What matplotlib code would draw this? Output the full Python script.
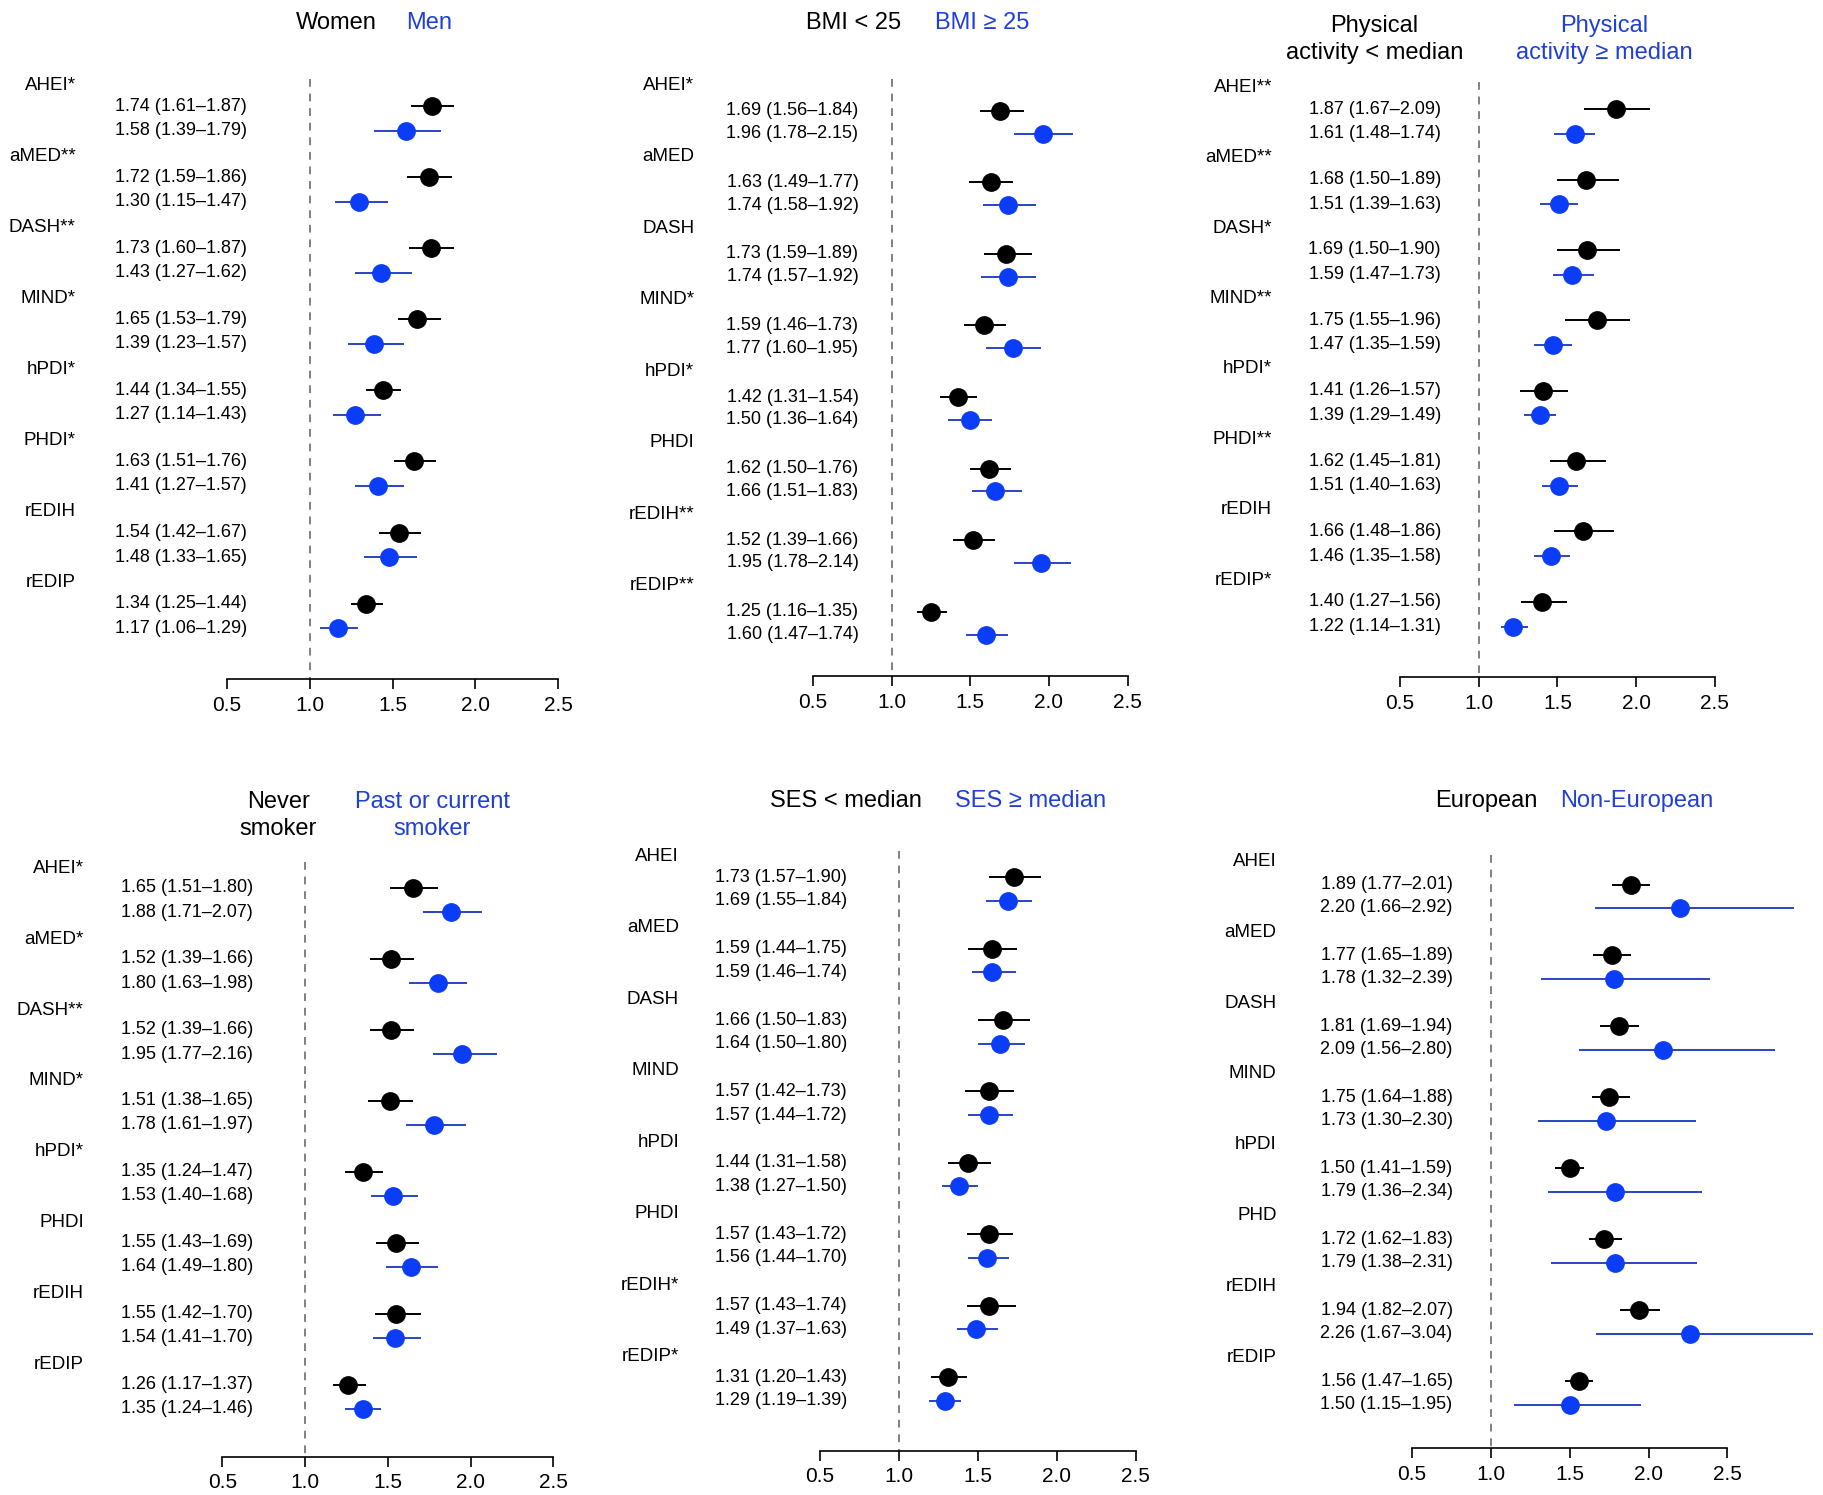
import numpy as np
import matplotlib.pyplot as plt
from matplotlib.transforms import blended_transform_factory

plt.rcParams['font.family'] = ['Liberation Sans', 'DejaVu Sans']

# layout was measured on the reference at this scale
W, H = 1565.0, 1283.0
def fx(px):
    return px / W
def fy(py):
    return 1 - py / H

BLUE_DOT = '#0b3cf7'
BLUE_LINE = '#2a44c4'
BLUE_TXT = '#1f3fd6'

# ---- data: odds ratios (estimate, lower, upper) ----
# sex
sex_lab = ['AHEI*', 'aMED**', 'DASH**', 'MIND*', 'hPDI*', 'PHDI*', 'rEDIH', 'rEDIP']
women_est = [1.74, 1.72, 1.73, 1.65, 1.44, 1.63, 1.54, 1.34]
women_lo = [1.61, 1.59, 1.60, 1.53, 1.34, 1.51, 1.42, 1.25]
women_hi = [1.87, 1.86, 1.87, 1.79, 1.55, 1.76, 1.67, 1.44]
men_est = [1.58, 1.30, 1.43, 1.39, 1.27, 1.41, 1.48, 1.17]
men_lo = [1.39, 1.15, 1.27, 1.23, 1.14, 1.27, 1.33, 1.06]
men_hi = [1.79, 1.47, 1.62, 1.57, 1.43, 1.57, 1.65, 1.29]

# BMI
bmi_lab = ['AHEI*', 'aMED', 'DASH', 'MIND*', 'hPDI*', 'PHDI', 'rEDIH**', 'rEDIP**']
bmi_lt_est = [1.69, 1.63, 1.73, 1.59, 1.42, 1.62, 1.52, 1.25]
bmi_lt_lo = [1.56, 1.49, 1.59, 1.46, 1.31, 1.50, 1.39, 1.16]
bmi_lt_hi = [1.84, 1.77, 1.89, 1.73, 1.54, 1.76, 1.66, 1.35]
bmi_ge_est = [1.96, 1.74, 1.74, 1.77, 1.50, 1.66, 1.95, 1.60]
bmi_ge_lo = [1.78, 1.58, 1.57, 1.60, 1.36, 1.51, 1.78, 1.47]
bmi_ge_hi = [2.15, 1.92, 1.92, 1.95, 1.64, 1.83, 2.14, 1.74]

# physical activity
pa_lab = ['AHEI**', 'aMED**', 'DASH*', 'MIND**', 'hPDI*', 'PHDI**', 'rEDIH', 'rEDIP*']
pa_lt_est = [1.87, 1.68, 1.69, 1.75, 1.41, 1.62, 1.66, 1.40]
pa_lt_lo = [1.67, 1.50, 1.50, 1.55, 1.26, 1.45, 1.48, 1.27]
pa_lt_hi = [2.09, 1.89, 1.90, 1.96, 1.57, 1.81, 1.86, 1.56]
pa_ge_est = [1.61, 1.51, 1.59, 1.47, 1.39, 1.51, 1.46, 1.22]
pa_ge_lo = [1.48, 1.39, 1.47, 1.35, 1.29, 1.40, 1.35, 1.14]
pa_ge_hi = [1.74, 1.63, 1.73, 1.59, 1.49, 1.63, 1.58, 1.31]

# smoking
smk_lab = ['AHEI*', 'aMED*', 'DASH**', 'MIND*', 'hPDI*', 'PHDI', 'rEDIH', 'rEDIP']
never_est = [1.65, 1.52, 1.52, 1.51, 1.35, 1.55, 1.55, 1.26]
never_lo = [1.51, 1.39, 1.39, 1.38, 1.24, 1.43, 1.42, 1.17]
never_hi = [1.80, 1.66, 1.66, 1.65, 1.47, 1.69, 1.70, 1.37]
ever_est = [1.88, 1.80, 1.95, 1.78, 1.53, 1.64, 1.54, 1.35]
ever_lo = [1.71, 1.63, 1.77, 1.61, 1.40, 1.49, 1.41, 1.24]
ever_hi = [2.07, 1.98, 2.16, 1.97, 1.68, 1.80, 1.70, 1.46]

# SES
ses_lab = ['AHEI', 'aMED', 'DASH', 'MIND', 'hPDI', 'PHDI', 'rEDIH*', 'rEDIP*']
ses_lt_est = [1.73, 1.59, 1.66, 1.57, 1.44, 1.57, 1.57, 1.31]
ses_lt_lo = [1.57, 1.44, 1.50, 1.42, 1.31, 1.43, 1.43, 1.20]
ses_lt_hi = [1.90, 1.75, 1.83, 1.73, 1.58, 1.72, 1.74, 1.43]
ses_ge_est = [1.69, 1.59, 1.64, 1.57, 1.38, 1.56, 1.49, 1.29]
ses_ge_lo = [1.55, 1.46, 1.50, 1.44, 1.27, 1.44, 1.37, 1.19]
ses_ge_hi = [1.84, 1.74, 1.80, 1.72, 1.50, 1.70, 1.63, 1.39]

# ancestry
anc_lab = ['AHEI', 'aMED', 'DASH', 'MIND', 'hPDI', 'PHD', 'rEDIH', 'rEDIP']
eur_est = [1.89, 1.77, 1.81, 1.75, 1.50, 1.72, 1.94, 1.56]
eur_lo = [1.77, 1.65, 1.69, 1.64, 1.41, 1.62, 1.82, 1.47]
eur_hi = [2.01, 1.89, 1.94, 1.88, 1.59, 1.83, 2.07, 1.65]
noneur_est = [2.20, 1.78, 2.09, 1.73, 1.79, 1.79, 2.26, 1.50]
noneur_lo = [1.66, 1.32, 1.56, 1.30, 1.36, 1.38, 1.67, 1.15]
noneur_hi = [2.92, 2.39, 2.80, 2.30, 2.34, 2.31, 3.04, 1.95]

xticks = [0.5, 1.0, 1.5, 2.0, 2.5]

# panel layout (pixel positions on the reference)
panels = [
    dict(lab=sex_lab, a=(women_est, women_lo, women_hi), b=(men_est, men_lo, men_hi),
         ta='Women', tb='Men', tpa=289, tpb=368, ty=20,
         x0=195, ppu=142, ytop=73, sp=61, yax=583, ldx=-130, vdx=17, ob=0.295, ou=0.64),
    dict(lab=bmi_lab, a=(bmi_lt_est, bmi_lt_lo, bmi_lt_hi), b=(bmi_ge_est, bmi_ge_lo, bmi_ge_hi),
         ta='BMI < 25', tb='BMI \u2265 25', tpa=733, tpb=843, ty=20,
         x0=698, ppu=135, ytop=73, sp=61.4, yax=580, ldx=-102, vdx=39, ob=0.36, ou=0.68),
    dict(lab=pa_lab, a=(pa_lt_est, pa_lt_lo, pa_lt_hi), b=(pa_ge_est, pa_ge_lo, pa_ge_hi),
         ta='Physical\nactivity < median', tb='Physical\nactivity \u2265 median', tpa=1180, tpb=1377, ty=34,
         x0=1202, ppu=135, ytop=75, sp=60.4, yax=581, ldx=-110, vdx=35, ob=0.31, ou=0.66),
    dict(lab=smk_lab, a=(never_est, never_lo, never_hi), b=(ever_est, ever_lo, ever_hi),
         ta='Never\nsmoker', tb='Past or current\nsmoker', tpa=239, tpb=371, ty=700,
         x0=191, ppu=142, ytop=745, sp=60.9, yax=1250, ldx=-119, vdx=26, ob=0.28, ou=0.62),
    dict(lab=ses_lab, a=(ses_lt_est, ses_lt_lo, ses_lt_hi), b=(ses_ge_est, ses_ge_lo, ses_ge_hi),
         ta='SES < median', tb='SES \u2265 median', tpa=726, tpb=885, ty=687,
         x0=704, ppu=135.5, ytop=735, sp=61.3, yax=1245, ldx=-121, vdx=23, ob=0.29, ou=0.62),
    dict(lab=anc_lab, a=(eur_est, eur_lo, eur_hi), b=(noneur_est, noneur_lo, noneur_hi),
         ta='European', tb='Non-European', tpa=1276, tpb=1405, ty=687,
         x0=1212, ppu=135.5, ytop=739, sp=60.9, yax=1243, ldx=-116, vdx=35, ob=0.33, ou=0.66),
]

def fmt(e, l, h):
    return '%.2f (%.2f\u2013%.2f)' % (e, l, h)

fig = plt.figure(figsize=(18.23, 14.95), dpi=100)

for p in panels:
    xr = 3.15
    top_px = p['ytop'] - 0.2 * p['sp']
    ax = fig.add_axes([fx(p['x0']), fy(p['yax']), fx(p['ppu'] * (xr - 0.5)), (p['yax'] - top_px) / H])
    ax.set_facecolor('none')
    ybot = (p['yax'] - p['ytop']) / p['sp']
    ax.set_xlim(0.5, xr)
    ax.set_ylim(ybot, -0.2)

    g = np.arange(len(p['lab']))
    ya = g + p['ob']
    yb = g + p['ou']
    ea, la, ha = [np.array(v) for v in p['a']]
    eb, lb, hb = [np.array(v) for v in p['b']]

    ax.plot([1.0, 1.0], [-0.08, ybot], color='#808080', lw=1.4, dashes=(4, 3.5), zorder=1)
    ax.hlines(ya, la, ha, color='black', lw=1.4, zorder=2, clip_on=False)
    ax.hlines(yb, lb, hb, color=BLUE_LINE, lw=1.4, zorder=2, clip_on=False)
    ax.plot(ea, ya, 'o', color='black', ms=12.5, zorder=3, clip_on=False)
    ax.plot(eb, yb, 'o', color=BLUE_DOT, ms=12.5, zorder=3, clip_on=False)

    for s in ['left', 'top', 'right']:
        ax.spines[s].set_visible(False)
    ax.spines['bottom'].set_bounds(0.5, 2.5)
    ax.spines['bottom'].set_linewidth(1.2)
    ax.set_xticks(xticks)
    ax.set_xticklabels(['%.1f' % t for t in xticks])
    ax.set_yticks([])
    ax.tick_params(axis='x', length=7, width=1.2, labelsize=15, pad=5)

    trans = blended_transform_factory(fig.transFigure, ax.transData)
    for i in range(len(g)):
        ax.text(fx(p['x0'] + p['ldx']), g[i], p['lab'][i], transform=trans,
                ha='right', va='center', fontsize=13.5)
        ax.text(fx(p['x0'] + p['vdx']), ya[i], fmt(ea[i], la[i], ha[i]), transform=trans,
                ha='right', va='center', fontsize=13)
        ax.text(fx(p['x0'] + p['vdx']), yb[i], fmt(eb[i], lb[i], hb[i]), transform=trans,
                ha='right', va='center', fontsize=13)

    fig.text(fx(p['tpa']), fy(p['ty']), p['ta'], ha='center', va='center',
             fontsize=17, color='black', linespacing=1.3)
    fig.text(fx(p['tpb']), fy(p['ty']), p['tb'], ha='center', va='center',
             fontsize=17, color=BLUE_TXT, linespacing=1.3)

fig.savefig('out.png', dpi=100)
